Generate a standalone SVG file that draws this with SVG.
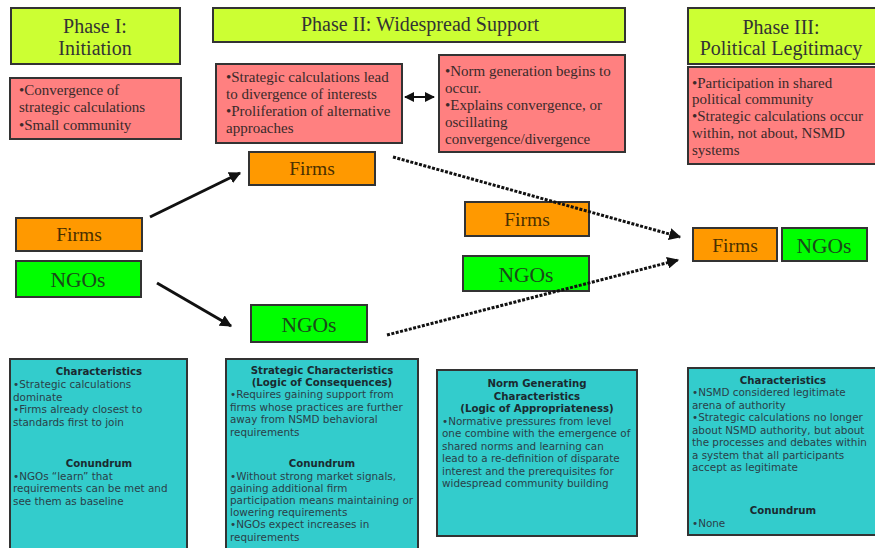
<svg xmlns="http://www.w3.org/2000/svg" width="875" height="548" viewBox="0 0 875 548">
<defs>
<marker id="ah" viewBox="0 0 10 10" refX="9" refY="5" markerWidth="4" markerHeight="4" orient="auto"><path d="M0,0 L10,5 L0,10 z" fill="#111"/></marker>
<marker id="ahs" viewBox="0 0 10 10" refX="9" refY="5" markerWidth="5" markerHeight="5" orient="auto-start-reverse"><path d="M0,0 L10,5 L0,10 z" fill="#111"/></marker>
<style>
.ph{fill:#ccff33;stroke:#333;stroke-width:2}
.pk{fill:#ff8080;stroke:#333;stroke-width:2}
.tl{fill:#33cccc;stroke:#333;stroke-width:2}
.fr{fill:#ff9900;stroke:#333;stroke-width:2}
.ng{fill:#00ff00;stroke:#333;stroke-width:2}
.pht{font-family:"Liberation Serif",serif;font-size:20px;fill:#333;text-anchor:middle}
.pkt{font-family:"Liberation Serif",serif;font-size:15px;fill:#3a2a2a}
.frt{font-family:"Liberation Serif",serif;font-size:19.5px;fill:#4a3000;text-anchor:middle}
.ngt{font-family:"Liberation Serif",serif;font-size:21.5px;fill:#1a4a1a;text-anchor:middle}
.th{font-family:"DejaVu Sans",Verdana,sans-serif;font-size:10.2px;font-weight:bold;fill:#1a2a30;text-anchor:middle}
.tb{font-family:"DejaVu Sans",Verdana,sans-serif;font-size:10.4px;fill:#2a4048}
.sol{stroke:#111;stroke-width:3;fill:none}
.dot{stroke:#111;stroke-width:3;fill:none;stroke-dasharray:3 1.5}
</style>
</defs>

<g id="phase1">
<rect class="ph" x="11" y="8" width="169" height="56"/>
<text class="pht" x="95" y="33">Phase I:</text>
<text class="pht" x="95" y="55">Initiation</text>
</g>
<g id="phase2">
<rect class="ph" x="213" y="8" width="412" height="34"/>
<text class="pht" x="420" y="31">Phase II: Widespread Support</text>
</g>
<g id="phase3">
<rect class="ph" x="688" y="8" width="188" height="56"/>
<text class="pht" x="781" y="34">Phase III:</text>
<text class="pht" x="781" y="55">Political Legitimacy</text>
</g>

<g id="pink1">
<rect class="pk" x="10" y="78" width="171" height="61"/>
<text class="pkt" x="19" y="95">•Convergence of</text>
<text class="pkt" x="19" y="112">strategic calculations</text>
<text class="pkt" x="19" y="130">•Small community</text>
</g>
<g id="pink2">
<rect class="pk" x="216" y="64" width="186" height="79"/>
<text class="pkt" x="226" y="82">•Strategic calculations lead</text>
<text class="pkt" x="226" y="99">to divergence of interests</text>
<text class="pkt" x="226" y="116">•Proliferation of alternative</text>
<text class="pkt" x="226" y="133">approaches</text>
</g>
<g id="pink3">
<rect class="pk" x="439" y="55" width="186" height="97"/>
<text class="pkt" x="445" y="76">•Norm generation begins to</text>
<text class="pkt" x="445" y="93">occur.</text>
<text class="pkt" x="445" y="110">•Explains convergence, or</text>
<text class="pkt" x="445" y="127">oscillating</text>
<text class="pkt" x="445" y="144">convergence/divergence</text>
</g>
<g id="pink4">
<rect class="pk" x="688" y="67" width="188" height="97"/>
<text class="pkt" x="692" y="88">•Participation in shared</text>
<text class="pkt" x="692" y="104">political community</text>
<text class="pkt" x="692" y="121">•Strategic calculations occur</text>
<text class="pkt" x="692" y="138">within, not about, NSMD</text>
<text class="pkt" x="692" y="155">systems</text>
</g>

<g id="firms1"><rect class="fr" x="16" y="218" width="126" height="33"/><text class="frt" x="79" y="241">Firms</text></g>
<g id="ngos1"><rect class="ng" x="16" y="261" width="125" height="36"/><text class="ngt" x="78" y="287">NGOs</text></g>
<g id="firms2a"><rect class="fr" x="249" y="152" width="126" height="33"/><text class="frt" x="312" y="175">Firms</text></g>
<g id="ngos2a"><rect class="ng" x="251" y="305" width="116" height="37"/><text class="ngt" x="309" y="332">NGOs</text></g>
<g id="firms2b"><rect class="fr" x="465" y="202" width="124" height="34"/><text class="frt" x="527" y="226">Firms</text></g>
<g id="ngos2b"><rect class="ng" x="463" y="256" width="126" height="35"/><text class="ngt" x="526" y="282">NGOs</text></g>
<g id="firms3"><rect class="fr" x="693" y="228" width="84" height="33"/><text class="frt" x="735" y="252">Firms</text></g>
<g id="ngos3"><rect class="ng" x="782" y="228" width="85" height="33"/><text class="ngt" x="824" y="253">NGOs</text></g>

<g id="connectors">
<line class="sol" x1="150" y1="217" x2="240" y2="173" marker-end="url(#ah)"/>
<line class="sol" x1="157" y1="283" x2="231" y2="326" marker-end="url(#ah)"/>
<line class="dot" x1="393" y1="157" x2="680" y2="237" marker-end="url(#ah)"/>
<line class="dot" x1="387" y1="335" x2="678" y2="260" marker-end="url(#ah)"/>
<line x1="405" y1="97" x2="434" y2="97" stroke="#111" stroke-width="2" marker-start="url(#ahs)" marker-end="url(#ahs)"/>
</g>

<g id="teal1">
<rect class="tl" x="10" y="359" width="177" height="195"/>
<text class="th" x="99" y="375">Characteristics</text>
<text class="tb" x="13" y="388">•Strategic calculations</text>
<text class="tb" x="13" y="401">dominate</text>
<text class="tb" x="13" y="413">•Firms already closest to</text>
<text class="tb" x="13" y="426">standards first to join</text>
<text class="th" x="99" y="467">Conundrum</text>
<text class="tb" x="13" y="480">•NGOs “learn” that</text>
<text class="tb" x="13" y="492">requirements can be met and</text>
<text class="tb" x="13" y="505">see them as baseline</text>
</g>
<g id="teal2">
<rect class="tl" x="226" y="359" width="192" height="195"/>
<text class="th" x="322" y="374">Strategic Characteristics</text>
<text class="th" x="322" y="386">(Logic of Consequences)</text>
<text class="tb" x="230" y="398">•Requires gaining support from</text>
<text class="tb" x="230" y="411">firms whose practices are further</text>
<text class="tb" x="230" y="423">away from NSMD behavioral</text>
<text class="tb" x="230" y="436">requirements</text>
<text class="th" x="322" y="467">Conundrum</text>
<text class="tb" x="230" y="480">•Without strong market signals,</text>
<text class="tb" x="230" y="492">gaining additional firm</text>
<text class="tb" x="230" y="504">participation means maintaining or</text>
<text class="tb" x="230" y="516">lowering requirements</text>
<text class="tb" x="230" y="528">•NGOs expect increases in</text>
<text class="tb" x="230" y="541">requirements</text>
</g>
<g id="teal3">
<rect class="tl" x="437" y="370" width="200" height="166"/>
<text class="th" x="537" y="387">Norm Generating</text>
<text class="th" x="537" y="400">Characteristics</text>
<text class="th" x="537" y="412">(Logic of Appropriateness)</text>
<text class="tb" x="442" y="425">•Normative pressures from level</text>
<text class="tb" x="442" y="437">one combine with the emergence of</text>
<text class="tb" x="442" y="450">shared norms and learning can</text>
<text class="tb" x="442" y="462">lead to a re-definition of disparate</text>
<text class="tb" x="442" y="475">interest and the prerequisites for</text>
<text class="tb" x="442" y="487">widespread community building</text>
</g>
<g id="teal4">
<rect class="tl" x="688" y="368" width="188" height="167"/>
<text class="th" x="783" y="384">Characteristics</text>
<text class="tb" x="692" y="396">•NSMD considered legitimate</text>
<text class="tb" x="692" y="409">arena of authority</text>
<text class="tb" x="692" y="421">•Strategic calculations no longer</text>
<text class="tb" x="692" y="434">about NSMD authority, but about</text>
<text class="tb" x="692" y="446">the processes and debates within</text>
<text class="tb" x="692" y="459">a system that all participants</text>
<text class="tb" x="692" y="471">accept as legitimate</text>
<text class="th" x="783" y="514">Conundrum</text>
<text class="tb" x="692" y="527">•None</text>
</g>
</svg>
